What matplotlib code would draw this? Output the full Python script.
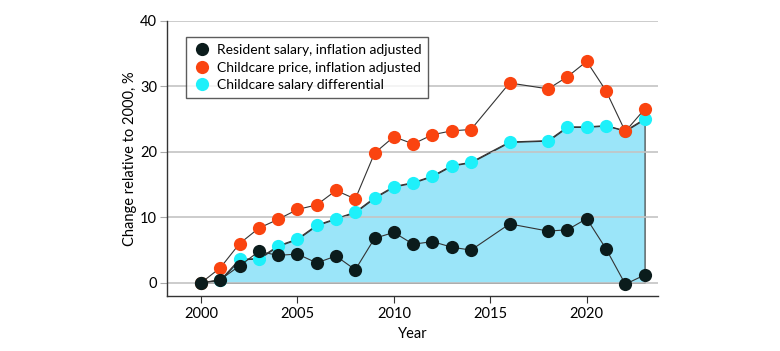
import matplotlib
matplotlib.use('Agg')
import matplotlib.pyplot as plt
from matplotlib.lines import Line2D

plt.rcParams['font.family'] = ['Lato', 'DejaVu Sans']

years = [2000, 2001, 2002, 2003, 2004, 2005, 2006, 2007, 2008, 2009, 2010,
         2011, 2012, 2013, 2014, 2016, 2018, 2019, 2020, 2021, 2022, 2023]
resident = [0, 0.5, 2.6, 4.8, 4.2, 4.4, 3.05, 4.1, 2.0, 6.8, 7.7,
            5.9, 6.3, 5.45, 5.0, 9.0, 7.9, 8.1, 9.8, 5.2, -0.2, 1.2]
childcare = [0, 2.3, 6.0, 8.35, 9.7, 11.2, 11.9, 14.1, 12.8, 19.8, 22.3,
             21.2, 22.6, 23.2, 23.4, 30.5, 29.6, 31.45, 33.8, 29.3, 23.1, 26.5]
differential = [0, 0.4, 3.6, 3.7, 5.65, 6.7, 8.8, 9.8, 10.8, 13.0, 14.7,
                15.3, 16.3, 17.9, 18.4, 21.5, 21.7, 23.8, 23.8, 24.0, 23.2, 25.0]

fig = plt.figure(figsize=(7.8, 3.51), dpi=100)
ax = fig.add_axes([0.2137, 0.1567, 0.63, 0.7843])

ax.fill_between(years, 0, differential, facecolor='#9be5f9', edgecolor='#333333',
                linewidth=0.8, zorder=0.4)

ms = 9.5
ax.plot(years, differential, color='#333333', lw=0.8, marker='o', ms=ms,
        mfc='#1ef0fa', mec='none', zorder=2, label='Childcare salary differential')
ax.plot(years, childcare, color='#333333', lw=0.8, marker='o', ms=ms,
        mfc='#fa4410', mec='none', zorder=3, label='Childcare price, inflation adjusted')
ax.plot(years, resident, color='#333333', lw=0.8, marker='o', ms=ms,
        mfc='#0b1c1c', mec='none', zorder=4, label='Resident salary, inflation adjusted')

ax.set_xlim(1998.22, 2023.7)
ax.set_ylim(-2, 40)
ax.set_xticks([2000, 2005, 2010, 2015, 2020])
ax.set_yticks([0, 10, 20, 30, 40])
ax.set_axisbelow(True)
ax.grid(axis='y', color='#c4c4c4', lw=1.2)

for s in ['top', 'right']:
    ax.spines[s].set_visible(False)
for s in ['left', 'bottom']:
    ax.spines[s].set_color('#333333')
    ax.spines[s].set_linewidth(1.0)
ax.tick_params(axis='y', length=5, color='#aaaaaa', labelsize=10.5, pad=2)
ax.tick_params(axis='x', length=5, color='#333333', labelsize=10.5, pad=3)

ax.set_xlabel('Year', fontsize=10.5, labelpad=4)
ax.set_ylabel('Change relative to 2000, %', fontsize=10.5, labelpad=2)

handles, labels = ax.get_legend_handles_labels()
order = [2, 1, 0]
hs = [Line2D([], [], ls='none', marker='o', ms=ms, mec='none',
             mfc=handles[i].get_markerfacecolor()) for i in order]
leg = ax.legend(hs, [labels[i] for i in order], loc='upper left',
                bbox_to_anchor=(0.04, 0.94), fontsize=10, frameon=True,
                fancybox=False, edgecolor='#333333', handletextpad=0.4,
                borderpad=0.5, labelspacing=0.4, handlelength=1.3,
                borderaxespad=0)
leg.get_frame().set_linewidth(1.0)

fig.savefig('out.png', dpi=100)
